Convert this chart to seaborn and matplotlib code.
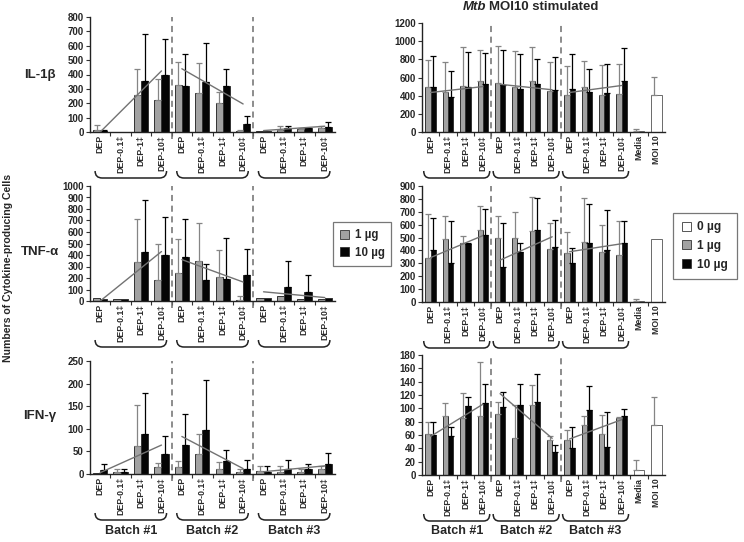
import numpy as np
import pandas as pd
import matplotlib
matplotlib.use("Agg")
import matplotlib.pyplot as plt
import matplotlib.transforms as mtransforms
from matplotlib.patches import Patch, PathPatch
from matplotlib.path import Path
import seaborn as sns

# ---------------- data ----------------
batches = ["Batch #1", "Batch #2", "Batch #3"]
dep_labels = ["DEP", "DEP-0.1\u2021", "DEP-1\u2021", "DEP-10\u2021"]
ctrl_labels = ["Media", "MOI 10"]
cytokines = ["IL-1\u03b2", "TNF-\u03b1", "IFN-\u03b3"]
doses = ["1 \u00b5g", "10 \u00b5g"]
ctrl_dose = "0 \u00b5g"

# left column: DEP alone (12 groups = 3 batches x 4 fractions)
il1_1ug = [15, 0, 260, 225, 325, 270, 205, 10, 5, 15, 20, 25]
il1_1ug_sd = [35, 0, 175, 145, 165, 210, 75, 5, 0, 25, 5, 20]
il1_10ug = [10, 3, 355, 400, 320, 345, 320, 55, 10, 30, 25, 35]
il1_10ug_sd = [5, 0, 325, 245, 220, 275, 115, 55, 0, 15, 5, 35]
il1_trend = [(0, 425), (440, 195), (10, 40)]

tnf_1ug = [30, 15, 340, 180, 240, 345, 210, 10, 30, 40, 15, 20]
tnf_1ug_sd = [0, 0, 370, 315, 295, 330, 230, 30, 0, 0, 0, 0]
tnf_10ug = [20, 15, 430, 400, 380, 180, 195, 230, 30, 120, 75, 30]
tnf_10ug_sd = [0, 0, 445, 330, 330, 145, 350, 225, 0, 225, 150, 0]
tnf_trend = [(0, 430), (360, 165), (80, 30)]

ifn_1ug = [3, 5, 62, 15, 15, 45, 12, 5, 7, 5, 5, 10]
ifn_1ug_sd = [0, 5, 91, 10, 13, 43, 15, 7, 10, 12, 7, 8]
ifn_10ug = [8, 5, 88, 45, 65, 97, 28, 12, 5, 10, 10, 22]
ifn_10ug_sd = [15, 5, 92, 40, 67, 110, 24, 18, 13, 20, 12, 25]
ifn_trend = [(3, 64), (83, 12), (5, 18)]

# right column: Mtb MOI10 stimulated (+ Media and MOI 10 controls)
mil1_1ug = [500, 445, 510, 560, 540, 490, 560, 450, 410, 490, 410, 420]
mil1_1ug_sd = [290, 330, 425, 345, 410, 400, 380, 320, 320, 290, 330, 330]
mil1_10ug = [495, 385, 490, 530, 515, 475, 525, 460, 475, 440, 430, 565]
mil1_10ug_sd = [345, 285, 390, 340, 390, 385, 280, 370, 380, 250, 315, 365]
mil1_ctrl = [10, 405]
mil1_ctrl_sd = [20, 205]
mil1_trend = [(435, 500), (525, 465), (435, 512)]

mtnf_1ug = [340, 490, 460, 560, 500, 500, 550, 410, 380, 465, 390, 365]
mtnf_1ug_sd = [345, 180, 55, 185, 170, 200, 265, 200, 165, 345, 210, 260]
mtnf_10ug = [400, 300, 450, 520, 270, 390, 560, 425, 300, 455, 405, 455]
mtnf_10ug_sd = [250, 325, 10, 205, 340, 70, 250, 210, 120, 305, 310, 170]
mtnf_ctrl = [5, 490]
mtnf_ctrl_sd = [15, 0]
mtnf_trend = [(345, 515), (325, 506), (390, 452)]

mifn_1ug = [62, 89, 85, 88, 92, 56, 105, 52, 53, 75, 62, 85]
mifn_1ug_sd = [18, 19, 38, 82, 18, 49, 30, 6, 14, 13, 28, 2]
mifn_10ug = [60, 58, 103, 108, 102, 105, 110, 35, 40, 97, 42, 88]
mifn_10ug_sd = [20, 14, 14, 29, 23, 31, 42, 10, 32, 37, 53, 11]
mifn_ctrl = [8, 75]
mifn_ctrl_sd = [15, 42]
mifn_trend = [(58, 106), (122, 55), (54, 83)]

GRAY = "#a2a2a2"
BLACK = "#050505"
TREND = "#727272"

sns.set_style("ticks")
plt.rcParams["font.family"] = ["Liberation Sans", "DejaVu Sans"]
plt.rcParams["font.weight"] = "bold"

W, H = 744, 542
fig = plt.figure(figsize=(W / 100, H / 100), dpi=100)


def rect(left, top, right, bottom):
    return [left / W, 1 - bottom / H, (right - left) / W, (bottom - top) / H]


def brace(ax, x0, x1, drop_px):
    # curly bracket under a batch, x in data, y in pixels below the axis
    ax_h = ax.get_position().height * H
    yb = -drop_px / ax_h
    h = 7 / ax_h
    dx = 0.35
    verts = [(x0, yb + h), (x0, yb), (x0 + dx, yb), (x1 - dx, yb),
             (x1, yb), (x1, yb + h)]
    codes = [Path.MOVETO, Path.CURVE3, Path.CURVE3, Path.LINETO,
             Path.CURVE3, Path.CURVE3]
    trans = mtransforms.blended_transform_factory(ax.transData, ax.transAxes)
    ax.add_patch(PathPatch(Path(verts, codes), facecolor="none",
                           edgecolor="#222222", lw=1.1, transform=trans,
                           clip_on=False))


def panel(ax, g, g_sd, b, b_sd, trend, ymax, step, width,
          ctrl=None, ctrl_sd=None):
    n = 12 + (2 if ctrl is not None else 0)
    ids = [f"c{i}" for i in range(n)]
    labels = dep_labels * 3 + (ctrl_labels if ctrl is not None else [])
    df = pd.DataFrame({
        "cat": ids[:12] * 2,
        "dose": [doses[0]] * 12 + [doses[1]] * 12,
        "val": g + b,
    })
    sns.barplot(data=df, x="cat", y="val", hue="dose", order=ids,
                hue_order=doses, palette={doses[0]: GRAY, doses[1]: BLACK},
                errorbar=None, width=width, edgecolor="#333333",
                linewidth=0.7, legend=False, ax=ax)
    off = width / 4
    xs = np.arange(12)
    for vals, sds, sign, col in [(g, g_sd, -1, "#858585"), (b, b_sd, 1, "#000000")]:
        vals, sds = np.array(vals), np.array(sds)
        m = sds > 0
        ax.errorbar(xs[m] + sign * off, vals[m],
                    yerr=[np.zeros(m.sum()), sds[m]], fmt="none",
                    ecolor=col, elinewidth=0.9, capsize=2.2, capthick=0.9,
                    zorder=4)
    if ctrl is not None:
        cdf = pd.DataFrame({"cat": ids[12:], "dose": [ctrl_dose] * 2,
                            "val": ctrl})
        sns.barplot(data=cdf, x="cat", y="val", hue="dose", order=ids,
                    hue_order=[ctrl_dose, "pad"],
                    palette={ctrl_dose: "white", "pad": "white"},
                    errorbar=None, width=width, edgecolor="#6a6a6a",
                    linewidth=0.7, legend=False, ax=ax)
        cv, cs = np.array(ctrl), np.array(ctrl_sd)
        m = cs > 0
        ax.errorbar(np.arange(12, 14)[m] - off, cv[m],
                    yerr=[np.zeros(m.sum()), cs[m]], fmt="none",
                    ecolor="#858585", elinewidth=0.9, capsize=2.2,
                    capthick=0.9, zorder=4)
    for k, (y0, y1) in enumerate(trend):
        ax.plot([4 * k, 4 * k + 3], [y0, y1], color=TREND, lw=1.0, zorder=5)
    for xv in (3.5, 7.5):
        ax.axvline(xv, ymin=-0.06, ymax=1.0, color="#6e6e6e", lw=1.1,
                   ls=(0, (4, 3)), clip_on=False, zorder=1)
    ax.set_xlim(-0.5, n - 0.5)
    ax.set_ylim(0, ymax)
    ax.set_yticks(np.arange(0, ymax + 1, step))
    ax.set_xticks(np.arange(n))
    ax.set_xticklabels(labels, rotation=90, fontsize=6.3,
                       fontweight="bold", color="#2a2a2a")
    ax.set_xticks(np.arange(n - 1) + 0.5, minor=True)
    ax.tick_params(axis="x", which="major", length=0, pad=2)
    ax.tick_params(axis="x", which="minor", length=3, width=0.8,
                   color="#333333")
    ax.tick_params(axis="y", length=3, width=0.8, pad=1.5, labelsize=7,
                   color="#333333")
    for t in ax.get_yticklabels():
        t.set_fontweight("bold")
    ax.set_xlabel("")
    ax.set_ylabel("")
    sns.despine(ax=ax)
    for s in ("left", "bottom"):
        ax.spines[s].set_linewidth(1.0)
        ax.spines[s].set_color("#222222")
    x_pad = 0.4 if ctrl is not None else 0.25
    for k in range(3):
        brace(ax, 4 * k - x_pad, 4 * k + 3 + x_pad, 46)


left_rects = [rect(90, 17, 335, 132), rect(90, 186, 335, 301),
              rect(90, 361, 335, 474)]
right_rects = [rect(422, 23, 665, 132), rect(422, 186, 665, 302),
               rect(422, 355, 665, 475)]

left_data = [
    (il1_1ug, il1_1ug_sd, il1_10ug, il1_10ug_sd, il1_trend, 800, 100),
    (tnf_1ug, tnf_1ug_sd, tnf_10ug, tnf_10ug_sd, tnf_trend, 1000, 100),
    (ifn_1ug, ifn_1ug_sd, ifn_10ug, ifn_10ug_sd, ifn_trend, 250, 50),
]
right_data = [
    (mil1_1ug, mil1_1ug_sd, mil1_10ug, mil1_10ug_sd, mil1_trend, 1200, 200,
     mil1_ctrl, mil1_ctrl_sd),
    (mtnf_1ug, mtnf_1ug_sd, mtnf_10ug, mtnf_10ug_sd, mtnf_trend, 900, 100,
     mtnf_ctrl, mtnf_ctrl_sd),
    (mifn_1ug, mifn_1ug_sd, mifn_10ug, mifn_10ug_sd, mifn_trend, 180, 20,
     mifn_ctrl, mifn_ctrl_sd),
]

left_axes, right_axes = [], []
for r, d in zip(left_rects, left_data):
    ax = fig.add_axes(r)
    panel(ax, *d[:7], width=0.7)
    left_axes.append(ax)
for r, d in zip(right_rects, right_data):
    ax = fig.add_axes(r)
    panel(ax, *d[:7], width=0.6, ctrl=d[7], ctrl_sd=d[8])
    right_axes.append(ax)

# cytokine names
for name, ypx in zip(cytokines, [75, 252, 416]):
    fig.text(40 / W, 1 - ypx / H, name, ha="center", va="center",
             fontsize=9.5, fontweight="bold")

# shared y label
fig.text(8 / W, 1 - 268 / H, "Numbers of Cytokine-producing Cells",
         rotation=90, ha="center", va="center", fontsize=7.6,
         fontweight="bold")

# batch labels under the bottom row
for ax in (left_axes[2], right_axes[2]):
    trans = mtransforms.blended_transform_factory(ax.transData, fig.transFigure)
    for k, name in enumerate(batches):
        ax.text(4 * k + 1.5, 1 - 531 / H, name, transform=trans,
                ha="center", va="center", fontsize=9, fontweight="bold")

# title of the right column
fig.text(486 / W, 1 - 7 / H, "Mtb", ha="right", va="center", fontsize=9.5,
         fontweight="bold", style="italic")
fig.text(489 / W, 1 - 7 / H, "MOI10 stimulated", ha="left", va="center",
         fontsize=9.5, fontweight="bold")

# legends
h1 = [Patch(facecolor=GRAY, edgecolor="#333333", lw=0.6),
      Patch(facecolor=BLACK, edgecolor="#333333", lw=0.6)]
leg1 = fig.legend(h1, doses, loc="center", bbox_to_anchor=(362 / W, 1 - 244 / H),
                  frameon=True, fancybox=False, edgecolor="#555555",
                  handlelength=0.8, handleheight=0.8, handletextpad=0.5,
                  borderpad=0.6, labelspacing=0.5,
                  prop={"size": 8.3, "weight": "bold"})
leg1.get_frame().set_linewidth(0.9)
h2 = [Patch(facecolor="white", edgecolor="#555555", lw=0.7)] + h1
leg2 = fig.legend(h2, [ctrl_dose] + doses, loc="center",
                  bbox_to_anchor=(705 / W, 1 - 246 / H), frameon=True,
                  fancybox=False, edgecolor="#555555", handlelength=0.8,
                  handleheight=0.8, handletextpad=0.5, borderpad=0.7,
                  labelspacing=0.55, prop={"size": 8.6, "weight": "bold"})
leg2.get_frame().set_linewidth(0.9)

fig.savefig("out.png", dpi=100, facecolor="white")
